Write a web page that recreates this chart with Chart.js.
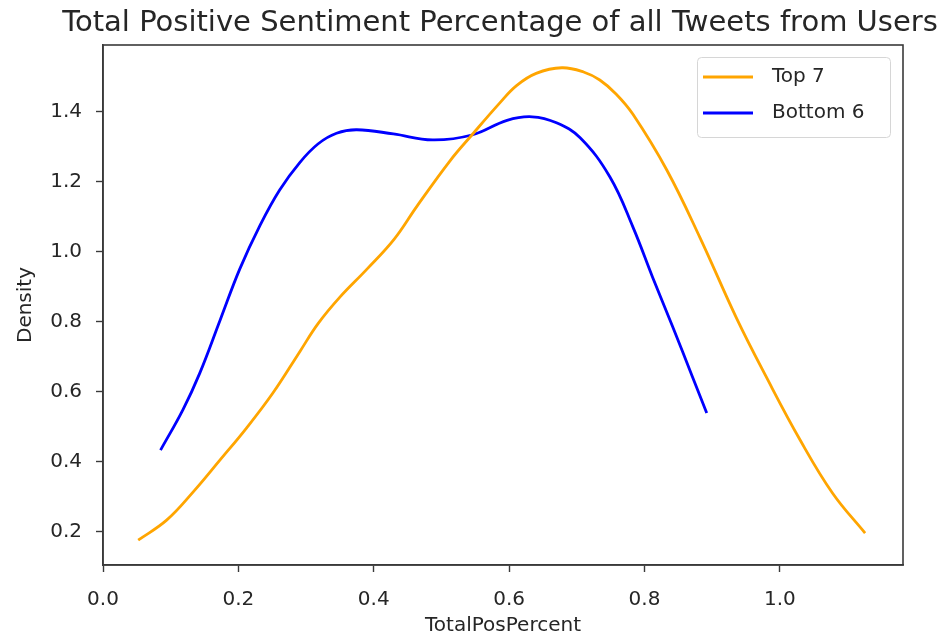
<!DOCTYPE html>
<html lang="en">
<head>
    <meta charset="UTF-8">
    <title>Total Positive Sentiment Percentage</title>
    <style>
        body {
            margin: 0;
            background: #fff;
        }
        #wrap {
            width: 946px;
            height: 638px;
        }
    </style>
    <script src="https://cdn.jsdelivr.net/npm/chart.js"></script>
</head>
<body>

<div id="wrap"><canvas id="kdeChart" width="946" height="638"></canvas></div>

<script>
    // curves (x = TotalPosPercent, y = density)
    const topX = [0.052, 0.094, 0.133, 0.173, 0.212, 0.251, 0.291, 0.318, 0.35, 0.39, 0.43, 0.464, 0.513, 0.545, 0.586, 0.611, 0.64, 0.678, 0.71, 0.734, 0.758, 0.783, 0.833, 0.882, 0.936, 0.98, 1.03, 1.078, 1.126];
    const topY = [0.176, 0.233, 0.313, 0.405, 0.496, 0.596, 0.715, 0.795, 0.87, 0.95, 1.035, 1.13, 1.26, 1.333, 1.424, 1.474, 1.509, 1.525, 1.513, 1.49, 1.45, 1.392, 1.233, 1.04, 0.81, 0.642, 0.462, 0.31, 0.196];

    const bottomX = [0.085, 0.118, 0.143, 0.173, 0.202, 0.232, 0.261, 0.291, 0.318, 0.345, 0.375, 0.429, 0.487, 0.545, 0.597, 0.634, 0.67, 0.705, 0.749, 0.783, 0.812, 0.842, 0.871, 0.892];
    const bottomY = [0.433, 0.548, 0.653, 0.804, 0.950, 1.075, 1.176, 1.255, 1.308, 1.338, 1.348, 1.336, 1.319, 1.333, 1.375, 1.385, 1.368, 1.325, 1.213, 1.07, 0.927, 0.784, 0.642, 0.539];

    const xTicks = [0.0, 0.2, 0.4, 0.6, 0.8, 1.0];
    const yTicks = [0.2, 0.4, 0.6, 0.8, 1.0, 1.2, 1.4];

    const labels = ['Top 7', 'Bottom 6'];
    const colors = ['#FFA500', '#0000FF'];
    const chartTitle = 'Total Positive Sentiment Percentage of all Tweets from Users';

    function toPoints(xs, ys) {
        return xs.map((x, i) => ({ x: x, y: ys[i] }));
    }

    const inkColor = '#262626';
    const spineColor = '#3a3a3a';

    // title, box around the plot, legend inside the top right corner
    const framePlugin = {
        id: 'frame',
        afterDraw(chart) {
            const ctx = chart.ctx;
            const a = chart.chartArea;
            ctx.save();

            ctx.fillStyle = inkColor;
            ctx.font = '29px "DejaVu Sans"';
            ctx.textAlign = 'center';
            ctx.textBaseline = 'alphabetic';
            ctx.fillText(chartTitle, 500, 31);

            ctx.strokeStyle = spineColor;
            ctx.lineWidth = 1.6;
            ctx.strokeRect(a.left, a.top, a.right - a.left, a.bottom - a.top);

            // legend
            const bx = 697, by = 57, bw = 193, bh = 80;
            ctx.fillStyle = 'rgba(255,255,255,0.8)';
            ctx.strokeStyle = '#d6d6d6';
            ctx.lineWidth = 1;
            ctx.beginPath();
            ctx.roundRect(bx + 0.5, by + 0.5, bw, bh, 4);
            ctx.fill();
            ctx.stroke();

            ctx.font = '20px "DejaVu Sans"';
            ctx.textAlign = 'left';
            ctx.textBaseline = 'middle';
            chart.data.datasets.forEach((ds, i) => {
                const y = 77 + i * 36;
                ctx.strokeStyle = ds.borderColor;
                ctx.lineWidth = 2.8;
                ctx.beginPath();
                ctx.moveTo(703, y);
                ctx.lineTo(753, y);
                ctx.stroke();
                ctx.fillStyle = inkColor;
                ctx.fillText(ds.label, 772, y);
            });
            ctx.restore();
        }
    };

    const ctx = document.getElementById('kdeChart').getContext('2d');
    const chart = new Chart(ctx, {
        type: 'scatter',
        data: {
            datasets: [{
                label: labels[0],
                data: toPoints(topX, topY),
                borderColor: colors[0],
                backgroundColor: colors[0],
                showLine: true,
                borderWidth: 2.8,
                pointRadius: 0,
                tension: 0.4,
            }, {
                label: labels[1],
                data: toPoints(bottomX, bottomY),
                borderColor: colors[1],
                backgroundColor: colors[1],
                showLine: true,
                borderWidth: 2.8,
                pointRadius: 0,
                tension: 0.4,
            }]
        },
        options: {
            responsive: false,
            animation: false,
            events: [],
            layout: {
                padding: { left: 0, right: 43, top: 45, bottom: 0 }
            },
            plugins: {
                legend: { display: false },
                tooltip: { enabled: false },
                title: { display: false }
            },
            scales: {
                x: {
                    type: 'linear',
                    min: 0,
                    max: 1.182,
                    afterBuildTicks: (s) => { s.ticks = xTicks.map(v => ({ value: v })); },
                    afterFit: (s) => { s.height = 73; },
                    grid: {
                        display: true,
                        drawOnChartArea: false,
                        drawTicks: true,
                        tickLength: 7,
                        tickWidth: 1.4,
                        color: spineColor
                    },
                    border: { display: true, color: spineColor, width: 1.6 },
                    ticks: {
                        color: inkColor,
                        padding: 16,
                        maxRotation: 0,
                        font: { family: 'DejaVu Sans', size: 20 },
                        callback: (v) => Number(v).toFixed(1)
                    },
                    title: {
                        display: true,
                        text: 'TotalPosPercent',
                        color: inkColor,
                        font: { family: 'DejaVu Sans', size: 20 },
                        padding: { top: 0, bottom: 0 }
                    }
                },
                y: {
                    type: 'linear',
                    min: 0.105,
                    max: 1.59,
                    afterBuildTicks: (s) => { s.ticks = yTicks.map(v => ({ value: v })); },
                    afterFit: (s) => { s.width = 103; },
                    grid: {
                        display: true,
                        drawOnChartArea: false,
                        drawTicks: true,
                        tickLength: 7,
                        tickWidth: 1.4,
                        color: spineColor
                    },
                    border: { display: true, color: spineColor, width: 1.6 },
                    ticks: {
                        color: inkColor,
                        padding: 14,
                        font: { family: 'DejaVu Sans', size: 20 },
                        callback: (v) => Number(v).toFixed(1)
                    },
                    title: {
                        display: true,
                        text: 'Density',
                        color: inkColor,
                        font: { family: 'DejaVu Sans', size: 20 },
                        padding: { top: 14, bottom: 0 }
                    }
                }
            }
        },
        plugins: [framePlugin]
    });
</script>

</body>
</html>
